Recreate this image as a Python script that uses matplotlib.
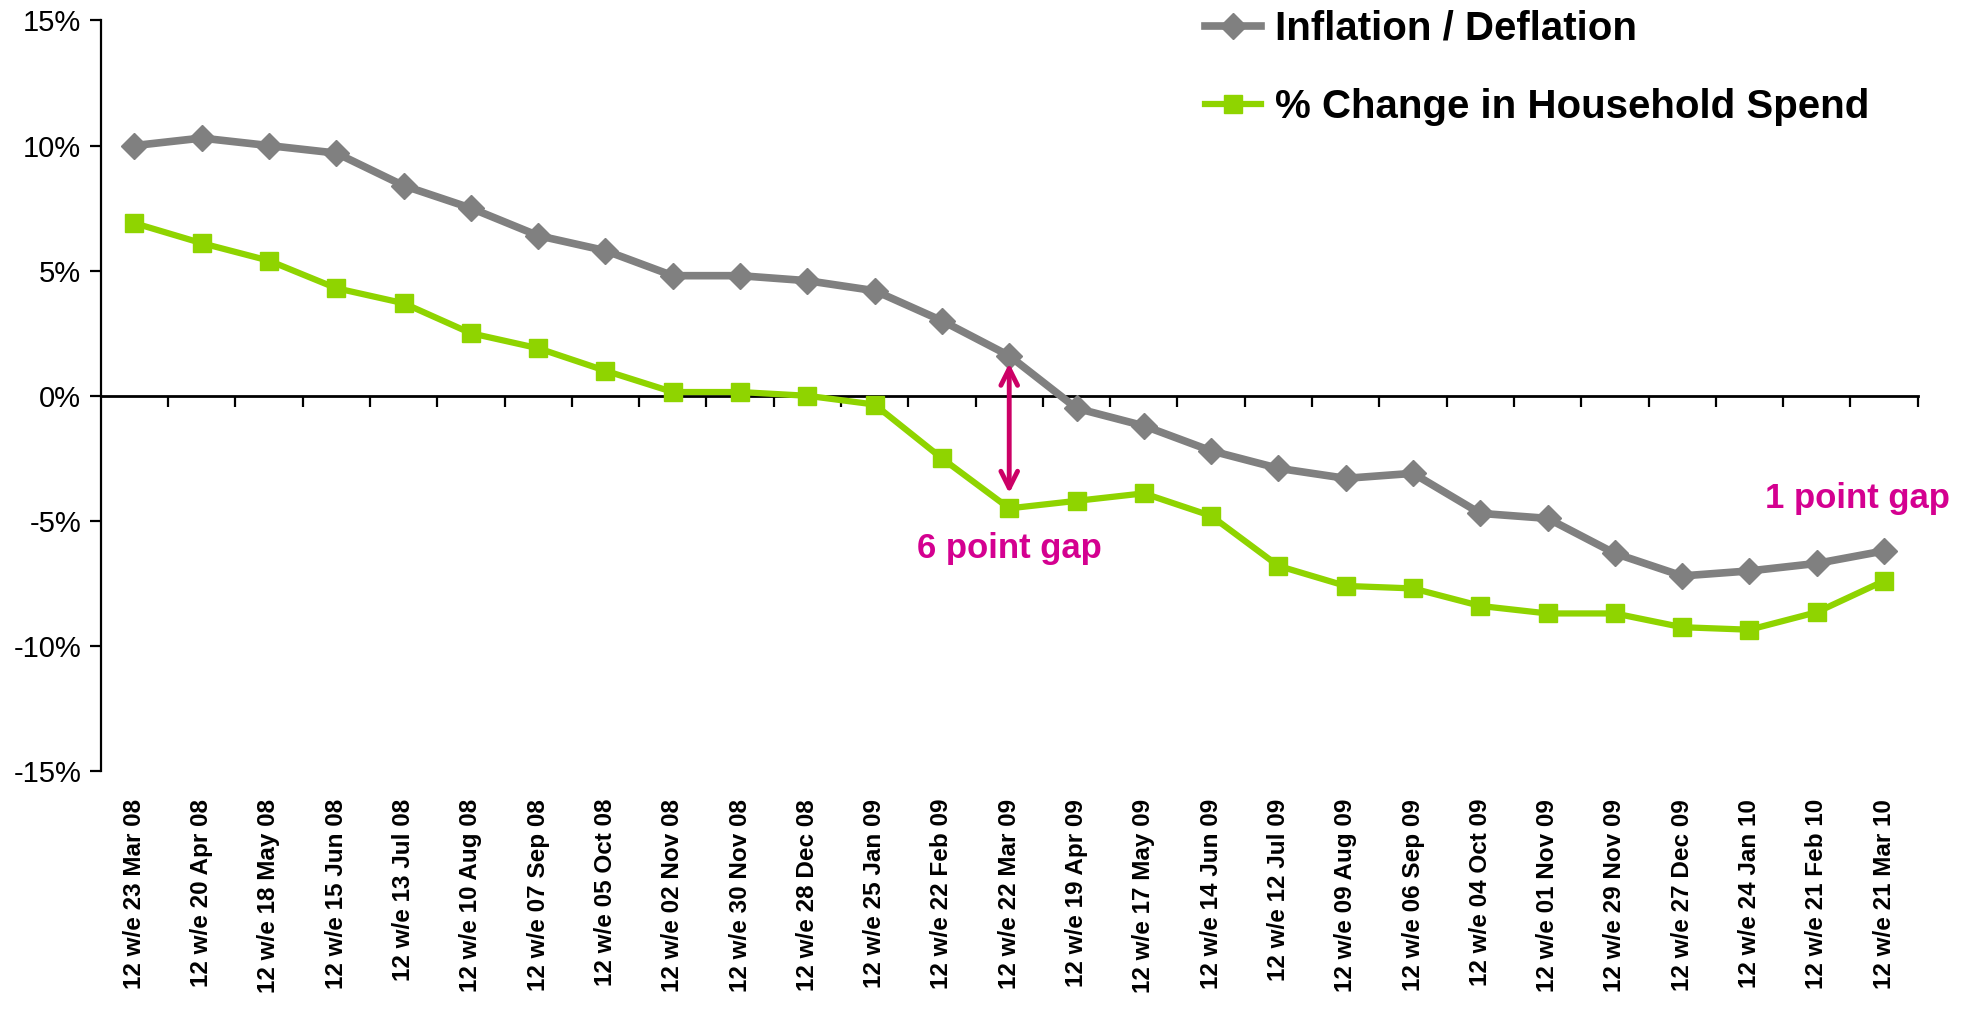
import matplotlib.pyplot as plt
import numpy as np

weeks = ["23 Mar 08", "20 Apr 08", "18 May 08", "15 Jun 08", "13 Jul 08", "10 Aug 08",
         "07 Sep 08", "05 Oct 08", "02 Nov 08", "30 Nov 08", "28 Dec 08", "25 Jan 09",
         "22 Feb 09", "22 Mar 09", "19 Apr 09", "17 May 09", "14 Jun 09", "12 Jul 09",
         "09 Aug 09", "06 Sep 09", "04 Oct 09", "01 Nov 09", "29 Nov 09", "27 Dec 09",
         "24 Jan 10", "21 Feb 10", "21 Mar 10"]
labels = ["12 w/e " + w for w in weeks]

inflation = [10.0, 10.3, 10.0, 9.7, 8.4, 7.5, 6.4, 5.8, 4.8, 4.8, 4.6, 4.2, 3.0, 1.6,
             -0.5, -1.2, -2.2, -2.9, -3.3, -3.1, -4.7, -4.9, -6.3, -7.2, -7.0, -6.7, -6.2]
household_spend = [6.9, 6.1, 5.4, 4.3, 3.7, 2.5, 1.9, 1.0, 0.15, 0.15, 0.0, -0.35, -2.5, -4.5,
                   -4.2, -3.9, -4.8, -6.8, -7.6, -7.7, -8.4, -8.7, -8.7, -9.25, -9.35, -8.65, -7.4]

yticks = [-15, -10, -5, 0, 5, 10, 15]

narrow = ['Liberation Sans Narrow', 'Liberation Sans', 'DejaVu Sans']
wide = ['Liberation Sans', 'DejaVu Sans']

fig = plt.figure(figsize=(19.75, 10.24), dpi=100)
ax = fig.add_axes([0.051, 0.247, 0.92, 0.733])

x = np.arange(len(labels))
ax.plot(x, inflation, color='#808080', lw=5.5, marker='D', ms=13, label='Inflation / Deflation', zorder=3)
ax.plot(x, household_spend, color='#8FD400', lw=4.5, marker='s', ms=12.5,
        label='% Change in Household Spend', zorder=3)

ax.set_xlim(-0.5, len(labels) - 0.5)
ax.set_ylim(-15, 15)

# axes: left spine + zero line with boundary ticks
for s in ['top', 'right']:
    ax.spines[s].set_visible(False)
ax.spines['bottom'].set_position(('data', 0))
ax.spines['bottom'].set_linewidth(2)
ax.spines['left'].set_linewidth(1.6)
ax.set_xticks(x + 0.5)
ax.set_xticklabels([])
ax.tick_params(axis='x', direction='out', length=8, width=1.6)
ax.set_yticks(yticks)
ax.set_yticklabels([f"{v}%" for v in yticks], family=narrow, fontsize=21)
ax.tick_params(axis='y', direction='out', length=8, width=1.6, pad=6)

# category labels below the plot
sec = ax.secondary_xaxis('bottom')
sec.spines['bottom'].set_visible(False)
sec.set_xticks(x)
sec.set_xticklabels(labels, rotation=90, fontsize=17.5, fontweight='bold', family=wide, va='top')
sec.tick_params(axis='x', length=0, pad=20)

# gap annotations
ax.annotate('', xy=(13, -3.9), xytext=(13, 1.3),
            arrowprops=dict(arrowstyle='<->', color='#CC0066', lw=3.5, mutation_scale=30,
                            shrinkA=0, shrinkB=0))
ax.text(13, -6.1, '6 point gap', ha='center', va='center', color='#D40090',
        fontsize=25, fontweight='bold', family=narrow)
ax.text(25.6, -4.1, '1 point gap', ha='center', va='center', color='#D40090',
        fontsize=25, fontweight='bold', family=narrow, clip_on=False)

fig.legend(loc='upper left', bbox_to_anchor=(1205 / 1975, 1 - 10 / 1024), frameon=False,
           prop={'family': narrow, 'weight': 'bold', 'size': 29},
           handlelength=1.4, handletextpad=0.35, labelspacing=1.0, borderpad=0, borderaxespad=0)

fig.savefig('out.png', dpi=100)
